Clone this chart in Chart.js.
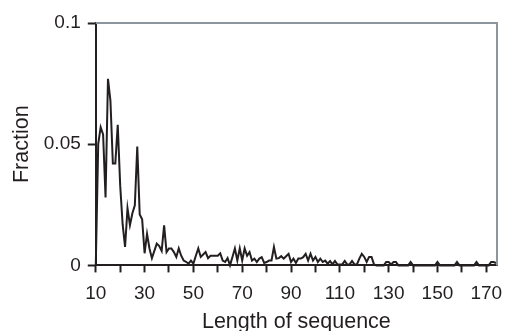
<!DOCTYPE html>
<html>
<head>
<meta charset="utf-8">
<script src="https://cdn.jsdelivr.net/npm/chart.js@4.4.1/dist/chart.umd.min.js"></script>
<style>
    html, body { margin: 0; padding: 0; background: #fff; }
    #wrap { width: 506px; height: 331px; position: relative; }
</style>
</head>
<body>
<div id="wrap"><canvas id="length-chart"></canvas></div>
<script>
    "use strict";

    // Sequence lengths (x)
    var lengths = [
        10, 11, 12, 13, 14, 15, 16, 17, 18, 19,
        20, 21, 22, 23, 24, 25, 26, 27, 28, 29,
        30, 31, 32, 33, 34, 35, 36, 37, 38, 39,
        40, 41, 42, 43, 44, 45, 46, 47, 48, 49,
        50, 51, 52, 53, 54, 55, 56, 57, 58, 59,
        60, 61, 62, 63, 64, 65, 66, 67, 68, 69,
        70, 71, 72, 73, 74, 75, 76, 77, 78, 79,
        80, 81, 82, 83, 84, 85, 86, 87, 88, 89,
        90, 91, 92, 93, 94, 95, 96, 97, 98, 99,
        100, 101, 102, 103, 104, 105, 106, 107, 108, 109,
        110, 111, 112, 113, 114, 115, 116, 117, 118, 119,
        120, 121, 122, 123, 124, 125, 126, 127, 128, 129,
        130, 131, 132, 133, 134, 135, 136, 137, 138, 139,
        140, 141, 142, 143, 144, 145, 146, 147, 148, 149,
        150, 151, 152, 153, 154, 155, 156, 157, 158, 159,
        160, 161, 162, 163, 164, 165, 166, 167, 168, 169,
        170, 171, 172, 173, 174
    ];

    // Fraction of sequences with that length (y)
    var fractions = [
        0, 0.050, 0.057, 0.054, 0.028, 0.077, 0.068, 0.042, 0.042, 0.058,
        0.033, 0.017, 0.0076, 0.0236, 0.0166, 0.0215, 0.0248, 0.049, 0.021, 0.019,
        0.005, 0.013, 0.007, 0.003, 0.006, 0.009, 0.008, 0.006, 0.0165, 0.0055,
        0.007, 0.007, 0.0055, 0.0035, 0.007, 0.004, 0.002, 0.0015, 0.0007, 0.002,
        0.0007, 0.004, 0.007, 0.0035, 0.0045, 0.0055, 0.003, 0.004, 0.004, 0.004,
        0.004, 0.005, 0.002, 0.0014, 0.003, 0, 0.0035, 0.007, 0.002, 0.007,
        0.002, 0.007, 0.004, 0.0055, 0.002, 0.0028, 0.0014, 0.0028, 0.0034, 0.001,
        0.0014, 0.002, 0.002, 0.0076, 0.0028, 0.003, 0.0038, 0.0028, 0.0038, 0.0048,
        0.0014, 0.0028, 0.001, 0.0028, 0.0028, 0.0034, 0.0048, 0.002, 0.0048, 0.002,
        0.0035, 0.0014, 0.0028, 0.0014, 0.002, 0.0007, 0.0018, 0.0004, 0.0018, 0.0004,
        0.0004, 0.0004, 0.0018, 0.0004, 0.0004, 0.0018, 0.0004, 0.0004, 0.0028, 0.0048,
        0.0035, 0.0014, 0.0035, 0.0035, 0.0004, 0, 0, 0, 0, 0.0014,
        0.0014, 0.0004, 0.0014, 0.0014, 0, 0, 0, 0, 0, 0.0014,
        0, 0, 0, 0, 0, 0, 0, 0, 0, 0,
        0.0014, 0, 0, 0, 0, 0, 0, 0, 0.0014, 0,
        0, 0, 0, 0, 0, 0, 0.0014, 0, 0, 0,
        0, 0, 0.0014, 0.0014, 0.001
    ];

    // Axis ticks
    var xTicks = [10, 20, 30, 40, 50, 60, 70, 80, 90, 100, 110, 120, 130, 140, 150, 160, 170];
    var xTickLabels = [10, 30, 50, 70, 90, 110, 130, 150, 170];
    var yTicks = [0, 0.05, 0.1];

    var ink = "#231f20";
    var fontFamily = "'Liberation Sans', Arial, Helvetica, sans-serif";

    // grey frame on top and right of the plot area
    var frame = {
        id: "frame",
        afterDatasetsDraw: function (chart) {
            var a = chart.chartArea, c = chart.ctx;
            c.save();
            c.strokeStyle = "#8c969e";
            c.lineWidth = 2;
            c.beginPath();
            c.moveTo(a.left, a.top);
            c.lineTo(a.right, a.top);
            c.lineTo(a.right, a.bottom);
            c.stroke();
            c.restore();
        }
    };

    // let the layout padding alone decide the plot edges
    function noOverhang(scale) {
        scale.paddingTop = 0;
        scale.paddingBottom = 0;
        scale.paddingLeft = 0;
        scale.paddingRight = 0;
    }

    var ctx = document.getElementById("length-chart").getContext("2d");
    var myChart = new Chart(ctx, {
        type: "line",
        data: {
            datasets: [{
                label: "Fraction",
                data: lengths.map(function (len, i) { return { x: len, y: fractions[i] }; }),
                borderColor: ink,
                borderWidth: 2,
                pointRadius: 0,
                tension: 0,
                fill: false,
                clip: false
            }]
        },
        options: {
            responsive: true,
            maintainAspectRatio: false,
            animation: false,
            layout: { padding: { left: 2, right: 9, top: 23, bottom: 0 } },
            plugins: {
                legend: { display: false },
                tooltip: { enabled: false }
            },
            scales: {
                x: {
                    type: "linear",
                    min: 10,
                    max: 174.4,
                    afterBuildTicks: function (scale) {
                        scale.ticks = xTicks.map(function (v) { return { value: v }; });
                    },
                    afterFit: noOverhang,
                    ticks: {
                        color: ink,
                        font: { family: fontFamily, size: 19 },
                        padding: 10,
                        maxRotation: 0,
                        autoSkip: false,
                        callback: function (v) {
                            return xTickLabels.indexOf(v) >= 0 ? String(v) : "";
                        }
                    },
                    grid: {
                        drawOnChartArea: false,
                        tickLength: 7,
                        tickWidth: 2,
                        tickColor: ink
                    },
                    border: { color: ink, width: 2 },
                    title: {
                        display: true,
                        text: "Length of sequence",
                        color: ink,
                        font: { family: fontFamily, size: 21.5 },
                        padding: { top: -6, bottom: -4 }
                    }
                },
                y: {
                    min: 0,
                    max: 0.1,
                    afterBuildTicks: function (scale) {
                        scale.ticks = yTicks.map(function (v) { return { value: v }; });
                    },
                    afterFit: noOverhang,
                    ticks: {
                        color: ink,
                        font: { family: fontFamily, size: 19 },
                        padding: 7,
                        callback: function (v) { return String(v); }
                    },
                    grid: {
                        drawOnChartArea: false,
                        tickLength: 8,
                        tickWidth: 2,
                        tickColor: ink
                    },
                    border: { color: ink, width: 2 },
                    title: {
                        display: true,
                        text: "Fraction",
                        color: ink,
                        font: { family: fontFamily, size: 21.5 },
                        padding: { top: 7, bottom: 2 }
                    }
                }
            }
        },
        plugins: [frame]
    });
</script>
</body>
</html>
